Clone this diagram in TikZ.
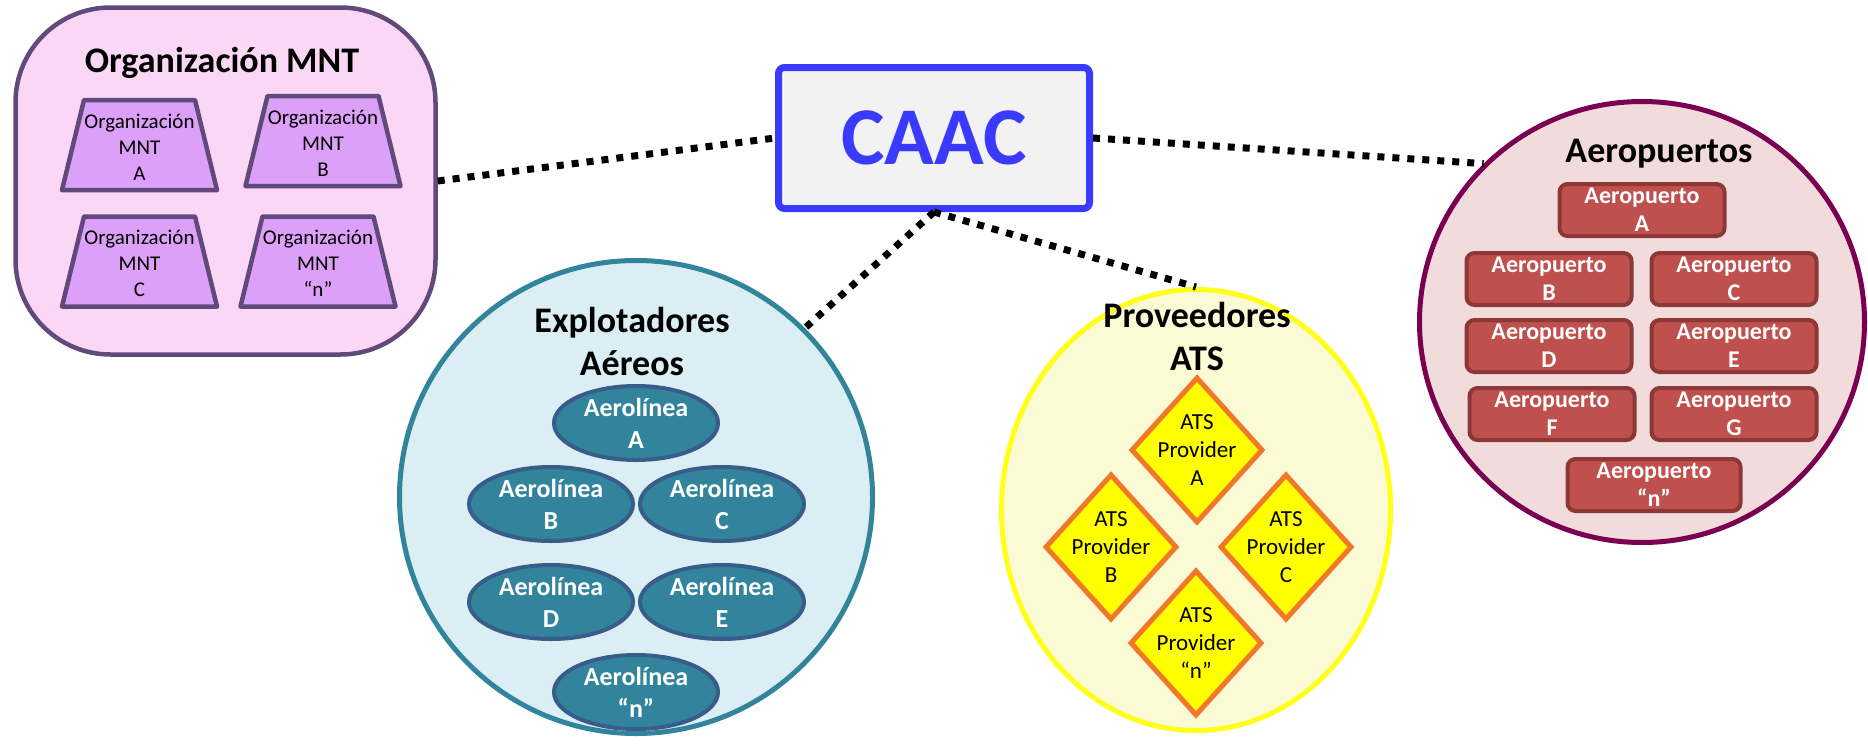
\documentclass[tikz,border=0pt]{standalone}
\usepackage{fontspec}
\setmainfont{Carlito}
\usetikzlibrary{shapes.geometric}

\definecolor{mntfill}{RGB}{250,215,245}
\definecolor{mntline}{RGB}{96,74,123}
\definecolor{trapfill}{RGB}{221,160,248}
\definecolor{caacblue}{RGB}{58,58,255}
\definecolor{caacfill}{RGB}{242,242,242}
\definecolor{explfill}{RGB}{218,238,243}
\definecolor{explline}{RGB}{49,132,155}
\definecolor{airfill}{RGB}{49,132,155}
\definecolor{airline}{RGB}{56,93,138}
\definecolor{provfill}{RGB}{250,250,212}
\definecolor{provline}{RGB}{255,255,25}
\definecolor{atsfill}{RGB}{255,255,0}
\definecolor{atsline}{RGB}{240,120,40}
\definecolor{aerofill}{RGB}{242,220,219}
\definecolor{aeroline}{RGB}{122,0,82}
\definecolor{apfill}{RGB}{192,80,77}
\definecolor{apline}{RGB}{140,56,54}

\begin{document}
\begin{tikzpicture}[x=1pt, y=-1pt,
  grouptitle/.style={font=\fontsize{36}{43}\selectfont\bfseries, align=center, inner sep=0pt},
  trapbox/.style={draw=mntline, fill=trapfill, line width=4.5pt, line join=round},
  traptext/.style={font=\fontsize{21}{26}\selectfont, align=center, inner sep=0pt},
  airbox/.style={ellipse, minimum width=164pt, minimum height=74pt, inner sep=0pt,
    draw=airline, fill=airfill, line width=4pt},
  airtext/.style={font=\fontsize{26}{32}\selectfont\bfseries, text=white, align=center, inner sep=0pt},
  atsbox/.style={diamond, minimum width=132pt, minimum height=146pt, inner sep=0pt,
    draw=atsline, fill=atsfill, line width=5pt},
  atstext/.style={font=\fontsize{23}{28}\selectfont, align=center, inner sep=0pt},
  apbox/.style={rectangle, rounded corners=8pt, minimum width=165pt, minimum height=52pt, inner sep=0pt,
    draw=apline, fill=apfill, line width=4pt},
  aptext/.style={font=\fontsize{24}{28}\selectfont\bfseries, text=white, align=center, inner sep=0pt},
  conn/.style={line width=7pt, dash pattern=on 7pt off 8pt, black}
]
\useasboundingbox (0,0) rectangle (1868,747);

% Organización MNT group
\node[draw=mntline, fill=mntfill, line width=4.5pt, rounded corners=95pt,
      minimum width=420pt, minimum height=347pt, inner sep=0pt] (mnt) at (225.5,181) {};
\node[grouptitle, anchor=base] (mnttitle) at (222,72) {Organización MNT};
% trapezoids (wide side at the bottom), one per maintenance organisation
\foreach \x/\y in {139.5/145, 323/141, 139.5/261.5, 318/261.5}
  \draw[trapbox, shift={(\x,\y)}] (-77.5,45) -- (77.5,45) -- (55.5,-45) -- (-55.5,-45) -- cycle;
\node[traptext] (mntA) at (139.5,147) {Organización\\MNT\\A};
\node[traptext] (mntB) at (323,143) {Organización\\MNT\\B};
\node[traptext] (mntC) at (139.5,263.5) {Organización\\MNT\\C};
\node[traptext] (mntN) at (318,263.5) {Organización\\MNT\\“n”};

% CAAC
\node[draw=caacblue, fill=caacfill, line width=7pt, rounded corners=6pt,
      minimum width=311pt, minimum height=141pt, inner sep=0pt,
      font=\fontsize{82}{98}\selectfont\bfseries, text=caacblue] (caac) at (934,138) {CAAC};

% Explotadores Aéreos
\node[circle, draw=explline, fill=explfill, line width=5pt, minimum size=473pt, inner sep=0pt] (expl) at (636,497) {};
\node[grouptitle] (expltitle) at (632,341) {Explotadores\\Aéreos};
\node[airbox, label={[airtext]center:{Aerolínea\\A}}] (airA) at (636,423) {};
\node[airbox, label={[airtext]center:{Aerolínea\\B}}] (airB) at (551,504) {};
\node[airbox, label={[airtext]center:{Aerolínea\\C}}] (airC) at (722,504) {};
\node[airbox, label={[airtext]center:{Aerolínea\\D}}] (airD) at (551,602) {};
\node[airbox, label={[airtext]center:{Aerolínea\\E}}] (airE) at (722,602) {};
\node[airbox, label={[airtext]center:{Aerolínea\\“n”}}] (airN) at (636,692) {};

% Proveedores ATS
\node[ellipse, draw=provline, fill=provfill, line width=5pt, minimum width=389pt, minimum height=441pt, inner sep=0pt] (prov) at (1196,510) {};
\node[grouptitle] (provtitle) at (1197,336) {Proveedores\\ATS};
\node[atsbox, label={[atstext]center:{ATS\\Provider\\A}}] (atsA) at (1197,450) {};
\node[atsbox, label={[atstext]center:{ATS\\Provider\\B}}] (atsB) at (1111,547) {};
\node[atsbox, label={[atstext]center:{ATS\\Provider\\C}}] (atsC) at (1286,547) {};
\node[atsbox, label={[atstext]center:{ATS\\Provider\\“n”}}] (atsN) at (1196,643) {};

% Aeropuertos
\node[ellipse, draw=aeroline, fill=aerofill, line width=5pt, minimum width=445pt, minimum height=441pt, inner sep=0pt] (aero) at (1642,322) {};
\node[grouptitle, anchor=base] (aerotitle) at (1659,162) {Aeropuertos};
\node[apbox, label={[aptext]center:{Aeropuerto\\A}}] (apA) at (1642,210) {};
\node[apbox, label={[aptext]center:{Aeropuerto\\B}}] (apB) at (1549,279) {};
\node[apbox, label={[aptext]center:{Aeropuerto\\C}}] (apC) at (1734,279) {};
\node[apbox, label={[aptext]center:{Aeropuerto\\D}}] (apD) at (1549,346) {};
\node[apbox, label={[aptext]center:{Aeropuerto\\E}}] (apE) at (1734,346) {};
\node[apbox, label={[aptext]center:{Aeropuerto\\F}}] (apF) at (1552,414) {};
\node[apbox, label={[aptext]center:{Aeropuerto\\G}}] (apG) at (1734,414) {};
\node[apbox, minimum width=173pt, label={[aptext]center:{Aeropuerto\\“n”}}] (apN) at (1654,485) {};

% Dotted links from CAAC
\draw[conn] (mnt.east) -- (caac.west);
\draw[conn] (caac.east) -- (aero.135);
\draw[conn] (caac.south) -- (expl.45);
\draw[conn] (caac.south) -- (prov.north);
\end{tikzpicture}
\end{document}
